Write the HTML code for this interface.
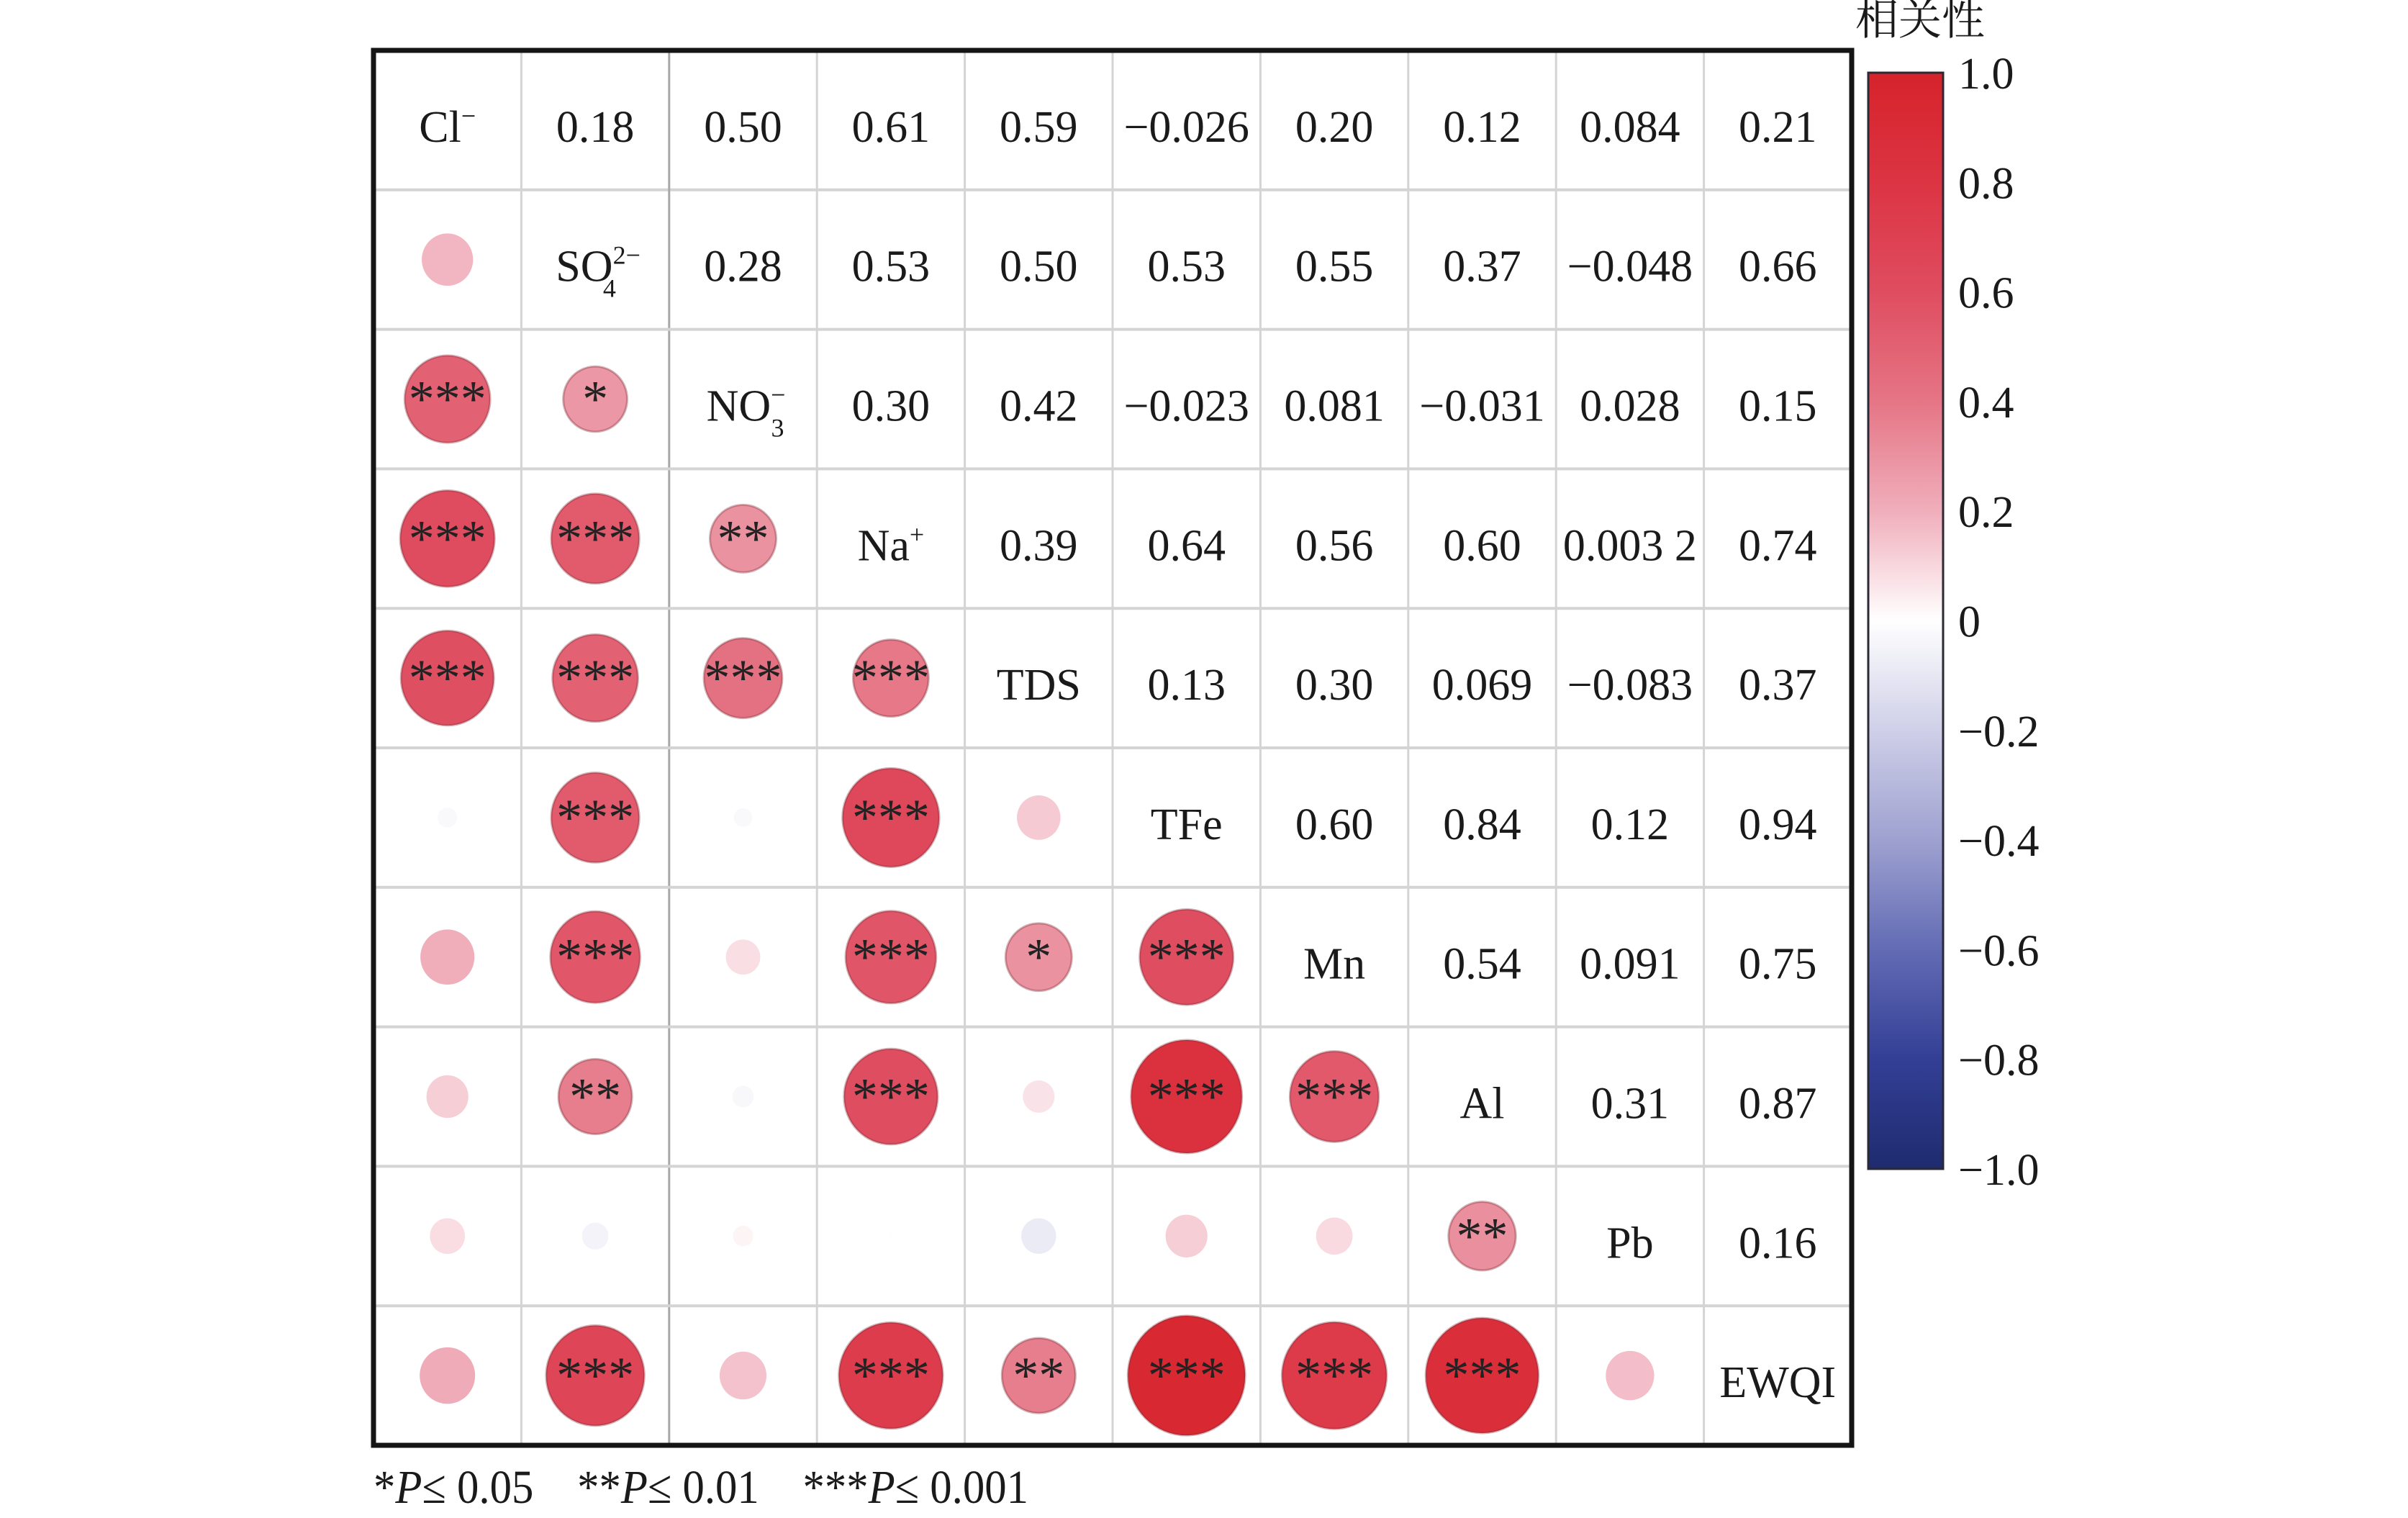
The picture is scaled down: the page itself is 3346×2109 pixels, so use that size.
<!DOCTYPE html>
<html><head><meta charset="utf-8">
<style>
html,body{margin:0;padding:0;background:#fff;}
svg{display:block;}
text{font-family:"Liberation Serif","Noto Serif CJK SC",serif;fill:#1a1a1a;}
</style></head>
<body>
<svg id="s" width="3346" height="2109" viewBox="0 0 3346 2109" xmlns="http://www.w3.org/2000/svg">
<defs>
<linearGradient id="cb" x1="0" y1="0" x2="0" y2="1">
<stop offset="0" stop-color="#d6232b"/>
<stop offset="0.1" stop-color="#dc3443"/>
<stop offset="0.2" stop-color="#df4d60"/>
<stop offset="0.3" stop-color="#e57585"/>
<stop offset="0.4" stop-color="#f0aebb"/>
<stop offset="0.5" stop-color="#ffffff"/>
<stop offset="0.6" stop-color="#cfcfe8"/>
<stop offset="0.7" stop-color="#9ea1d0"/>
<stop offset="0.8" stop-color="#626bb4"/>
<stop offset="0.9" stop-color="#333f95"/>
<stop offset="1" stop-color="#1f2b6e"/>
</linearGradient>
</defs>
<g id="g"></g>
</svg>
<script>
var g=document.getElementById('g');
var L=519,T=70,W=2054,H=1938,cw=W/10,ch=H/10;
var out='';
var up=[
['0.18','0.50','0.61','0.59','\u22120.026','0.20','0.12','0.084','0.21'],
['0.28','0.53','0.50','0.53','0.55','0.37','\u22120.048','0.66'],
['0.30','0.42','\u22120.023','0.081','\u22120.031','0.028','0.15'],
['0.39','0.64','0.56','0.60','0.003 2','0.74'],
['0.13','0.30','0.069','\u22120.083','0.37'],
['0.60','0.84','0.12','0.94'],
['0.54','0.091','0.75'],
['0.31','0.87'],
['0.16']];
var lo=[
[[0.18,'']],
[[0.50,'***'],[0.28,'*']],
[[0.61,'***'],[0.53,'***'],[0.30,'**']],
[[0.59,'***'],[0.50,'***'],[0.42,'***'],[0.39,'***']],
[[-0.026,''],[0.53,'***'],[-0.023,''],[0.64,'***'],[0.13,'']],
[[0.20,''],[0.55,'***'],[0.081,''],[0.56,'***'],[0.30,'*'],[0.60,'***']],
[[0.12,''],[0.37,'**'],[-0.031,''],[0.60,'***'],[0.069,''],[0.84,'***'],[0.54,'***']],
[[0.084,''],[-0.048,''],[0.028,''],[0.0032,''],[-0.083,''],[0.12,''],[0.091,''],[0.31,'**']],
[[0.21,''],[0.66,'***'],[0.15,''],[0.74,'***'],[0.37,'**'],[0.94,'***'],[0.75,'***'],[0.87,'***'],[0.16,'']]];
var stops=[[1,[214,35,43]],[0.8,[220,52,67]],[0.6,[223,77,96]],[0.4,[229,117,133]],[0.2,[240,174,187]],[0,[255,255,255]],[-0.2,[207,207,232]],[-0.4,[158,161,208]],[-0.6,[98,107,180]],[-0.8,[51,63,149]],[-1,[31,43,110]]];
function col(v){for(var i=0;i<stops.length-1;i++){var a=stops[i],b=stops[i+1];if(v<=a[0]&&v>=b[0]){var t=(a[0]-v)/(a[0]-b[0]);var c=a[1].map(function(x,k){return Math.round(x+(b[1][k]-x)*t);});return 'rgb('+c.join(',')+')';}}return '#fff';}
function cx(j){return L+cw*(j+0.5);}function cy(i){return T+ch*(i+0.5);}
for(var k=1;k<10;k++){
 out+='<line x1="'+(L+cw*k)+'" y1="'+T+'" x2="'+(L+cw*k)+'" y2="'+(T+H)+'" stroke="'+(k==2?'#a8a8a8':'#d4d4d4')+'" stroke-width="3"/>';
 out+='<line x1="'+L+'" y1="'+(T+ch*k)+'" x2="'+(L+W)+'" y2="'+(T+ch*k)+'" stroke="#d4d4d4" stroke-width="4"/>';
}
for(var i=0;i<9;i++)for(var j=0;j<up[i].length;j++){
 var c=i+1+j;out+='<text x="'+cx(c)+'" y="'+(cy(i)+30)+'" font-size="62" text-anchor="middle">'+up[i][j]+'</text>';
}
for(var i=0;i<9;i++)for(var j=0;j<lo[i].length;j++){
 var v=lo[i][j][0],s=lo[i][j][1],r=84*Math.sqrt(Math.abs(v));if(r<12)r=Math.abs(v)<0.01?4:13;
 var x=cx(j),y=cy(i+1);
 out+='<ellipse cx="'+x+'" cy="'+y+'" rx="'+r+'" ry="'+(r*1.02)+'" fill="'+col(v)+'" stroke="rgba(120,40,50,0.35)" stroke-width="'+(Math.abs(v)>0.25?3:0)+'"/>';
 if(s)out+='<text x="'+x+'" y="'+(y+24)+'" font-size="72" text-anchor="middle" style="fill:#222">'+s+'</text>';
}
var d=[
'Cl<tspan dy="-24" font-size="36">\u2212</tspan>',
'SO<tspan dy="-24" font-size="36">2\u2212</tspan><tspan dx="-52" dy="46" font-size="36">4</tspan>',
'NO<tspan dy="-24" font-size="36">\u2212</tspan><tspan dx="-20" dy="46" font-size="36">3</tspan>',
'Na<tspan dy="-24" font-size="36">+</tspan>',
'TDS','TFe','Mn','Al','Pb','EWQI'];
for(var i=0;i<10;i++)out+='<text x="'+(cx(i)+(i==1||i==2?4:0))+'" y="'+(cy(i)+30)+'" font-size="62" text-anchor="middle">'+d[i]+'</text>';
out+='<rect x="'+(L)+'" y="'+(T)+'" width="'+W+'" height="'+H+'" fill="none" stroke="#151515" stroke-width="7"/>';
out+='<rect x="2596" y="101" width="104" height="1523" fill="url(#cb)" stroke="#2a2a35" stroke-width="3"/>';
out+='<text x="2578" y="48" font-size="60">相关性</text>';
var lab=['1.0','0.8','0.6','0.4','0.2','0','\u22120.2','\u22120.4','\u22120.6','\u22120.8','\u22121.0'];
for(var k=0;k<11;k++)out+='<text x="2721" y="'+(101+152.3*k+22)+'" font-size="62">'+lab[k]+'</text>';
out+='<text x="519" y="2088" font-size="66" textLength="910" lengthAdjust="spacingAndGlyphs">*<tspan font-style="italic">P</tspan>\u2264 0.05 \u2002 **<tspan font-style="italic">P</tspan>\u2264 0.01 \u2002 ***<tspan font-style="italic">P</tspan>\u2264 0.001</text>';
g.innerHTML=out;
</script>
</body></html>
